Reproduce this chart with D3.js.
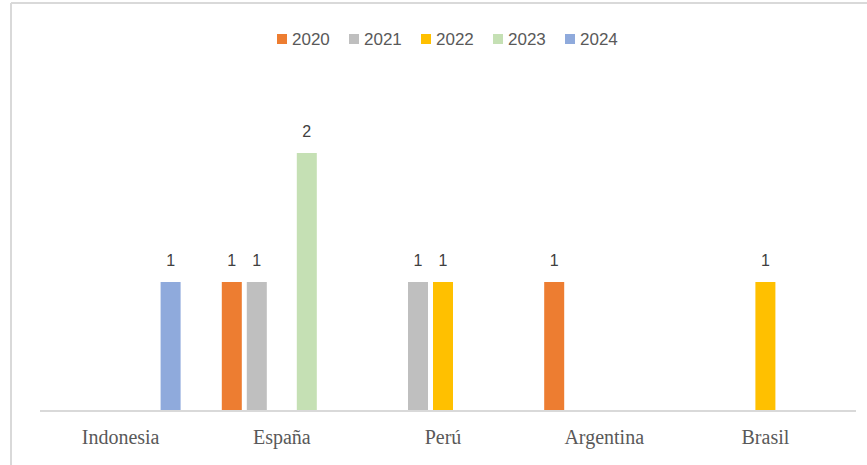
<!DOCTYPE html>
<html>
<head>
<meta charset="utf-8">
<script src="https://cdn.jsdelivr.net/npm/d3@7"></script>
<style>
  body { margin: 0; background: #fff; }
</style>
</head>
<body>
<script>
// chart values
var countries = ["Indonesia", "España", "Perú", "Argentina", "Brasil"];
var years = ["2020", "2021", "2022", "2023", "2024"];
var counts = [
  [0, 0, 0, 0, 1],   // Indonesia
  [1, 1, 0, 2, 0],   // España
  [0, 1, 1, 0, 0],   // Perú
  [1, 0, 0, 0, 0],   // Argentina
  [0, 0, 1, 0, 0]    // Brasil
];
var colors = ["#ed7d31", "#bfbfbf", "#ffc000", "#c5e0b4", "#8faadc"];

var svgWidth = 867;
var svgHeight = 465;

var svg = d3.select("body")
            .append("svg")
            .attr("width", svgWidth)
            .attr("height", svgHeight);

// frame (left + top edges visible)
svg.append("line").attr("x1", 11).attr("y1", 3).attr("x2", 867).attr("y2", 3)
   .attr("stroke", "#d9d9d9").attr("stroke-width", 2);
svg.append("line").attr("x1", 11).attr("y1", 3).attr("x2", 11).attr("y2", 465)
   .attr("stroke", "#d9d9d9").attr("stroke-width", 2);

var xScale = d3.scaleBand()
               .domain(countries)
               .range([40, 846])
               .paddingInner(0)
               .paddingOuter(0);

var groupWidth = 120;
var xInner = d3.scaleBand()
               .domain(years)
               .range([0, groupWidth])
               .paddingInner(0.2);

var yScale = d3.scaleLinear()
               .domain([0, 2])
               .range([411, 153]);

var rows = [];
counts.forEach(function(vals, i) {
  vals.forEach(function(v, j) {
    if (v > 0) rows.push({country: countries[i], year: years[j], value: v, color: colors[j]});
  });
});

var chartGroup = svg.append("g");

chartGroup.selectAll("rect.bar")
    .data(rows)
    .enter()
    .append("rect")
    .attr("class", "bar")
    .attr("x", d => xScale(d.country) + (xScale.bandwidth() - groupWidth) / 2 + xInner(d.year))
    .attr("y", d => yScale(d.value))
    .attr("width", xInner.bandwidth())
    .attr("height", d => yScale(0) - yScale(d.value))
    .attr("fill", d => d.color);

chartGroup.selectAll("text.val")
    .data(rows)
    .enter()
    .append("text")
    .attr("class", "val")
    .attr("x", d => xScale(d.country) + (xScale.bandwidth() - groupWidth) / 2 + xInner(d.year) + xInner.bandwidth() / 2)
    .attr("y", d => yScale(d.value) - 16)
    .attr("text-anchor", "middle")
    .attr("font-family", "Liberation Sans, Arial, sans-serif")
    .attr("font-size", "16px")
    .attr("fill", "#404040")
    .text(d => d.value);

// x axis
var bottomAxis = d3.axisBottom(xScale).tickSize(0).tickPadding(19);
var xAxisG = chartGroup.append("g")
    .attr("transform", "translate(0, 411)")
    .call(bottomAxis);
xAxisG.select(".domain")
    .attr("stroke", "#d9d9d9")
    .attr("stroke-width", 2)
    .attr("d", "M40,0H856");
xAxisG.selectAll("text")
    .attr("font-family", "Liberation Serif, Times New Roman, serif")
    .attr("font-size", "20px")
    .attr("fill", "#595959");

// legend
var legendX = d3.scalePoint().domain(years).range([277, 565]);
var legend = svg.append("g");
var items = legend.selectAll("g")
    .data(years)
    .enter()
    .append("g")
    .attr("transform", d => "translate(" + legendX(d) + ",34)");
items.append("rect")
    .attr("width", 10).attr("height", 10)
    .attr("fill", (d, i) => colors[i]);
items.append("text")
    .attr("x", 15).attr("y", 10.5)
    .attr("font-family", "Liberation Sans, Arial, sans-serif")
    .attr("font-size", "17px")
    .attr("fill", "#595959")
    .text(d => d);
</script>
</body>
</html>
